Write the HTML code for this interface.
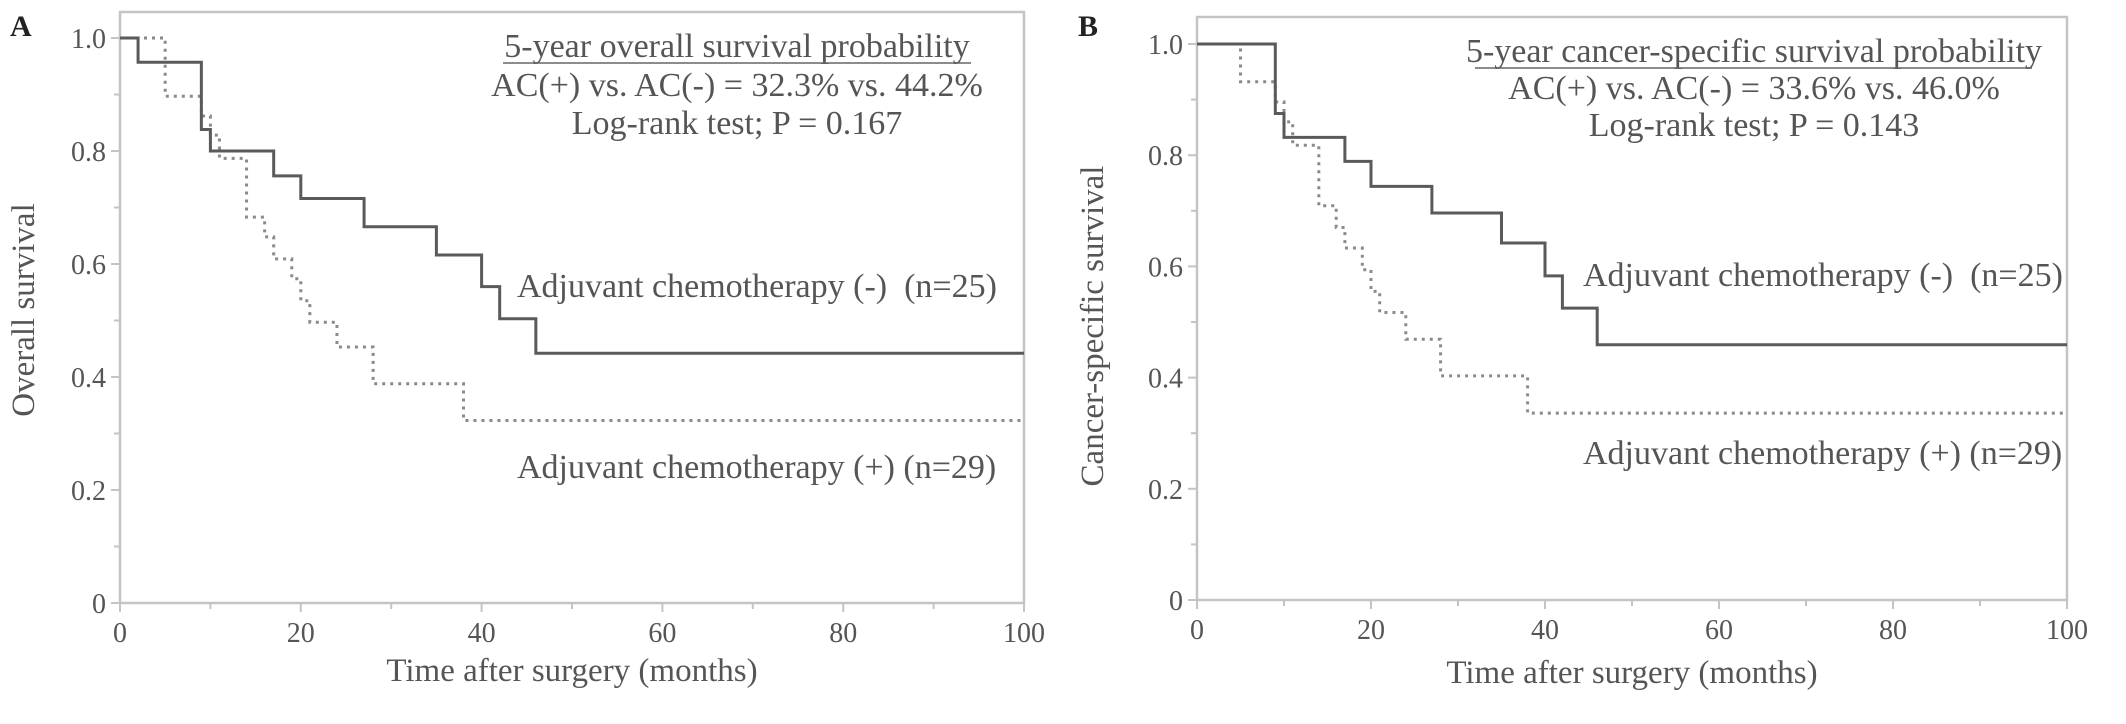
<!DOCTYPE html>
<html><head><meta charset="utf-8"><style>
html,body{margin:0;padding:0;background:#fff;}
svg{display:block;font-family:"Liberation Serif","DejaVu Serif",serif;}
text{white-space:pre;}
</style></head><body>
<svg id="chart" width="2126" height="724" viewBox="0 0 2126 724" xmlns="http://www.w3.org/2000/svg"></svg>
<script>
// Panel A data (overall survival)
const aSolidT = [0, 2, 9, 10, 17, 20, 27, 35, 40, 42, 46, 100];
const aSolidS = [1.0, 0.957, 0.838, 0.80, 0.756, 0.716, 0.666, 0.616, 0.56, 0.503, 0.442, 0.442];
const aDotT = [0, 5, 9, 10, 11, 14, 16, 17, 19, 20, 21, 24, 28, 38, 100];
const aDotS = [1.0, 0.897, 0.862, 0.828, 0.787, 0.683, 0.648, 0.609, 0.574, 0.535, 0.497, 0.453, 0.388, 0.323, 0.323];
// Panel B data (cancer-specific survival)
const bSolidT = [0, 9, 10, 17, 20, 27, 35, 40, 42, 46, 100];
const bSolidS = [1.0, 0.875, 0.832, 0.789, 0.744, 0.696, 0.642, 0.583, 0.525, 0.459, 0.459];
const bDotT = [0, 5, 9, 10, 11, 14, 16, 17, 19, 20, 21, 24, 28, 38, 100];
const bDotS = [1.0, 0.932, 0.896, 0.86, 0.818, 0.709, 0.67, 0.633, 0.594, 0.555, 0.517, 0.469, 0.403, 0.336, 0.336];
const xTicks = [0, 20, 40, 60, 80, 100];
const yTicks = [0, 0.2, 0.4, 0.6, 0.8, 1.0];
const yTickLabels = ["0", "0.2", "0.4", "0.6", "0.8", "1.0"];

const NS = "http://www.w3.org/2000/svg";
const svg = document.getElementById("chart");
function mk(tag, attrs, parent) {
  const e = document.createElementNS(NS, tag);
  for (const k in attrs) e.setAttribute(k, attrs[k]);
  (parent || svg).appendChild(e);
  return e;
}

function panel(cfg) {
  const g = mk("g", {});
  
  
  const X = t => cfg.x0 + (cfg.x1 - cfg.x0) * t / 100;
  const Y = s => cfg.y0 + (cfg.y1 - cfg.y0) * s;
  const fr = mk("path", {d: `M${cfg.x0} ${cfg.top} H${cfg.x1} V${cfg.y0} H${cfg.x0} Z`, fill: "none", stroke: "#c4c4c4", "stroke-width": 2.5}, g);
  
  
  for (let i = 0; i <= 10; i++) {
    const yy = Y(i / 10);
    const major = i % 2 === 0;
    const tk = mk("line", {x1: cfg.x0 - (major ? 9 : 6), x2: cfg.x0, y1: yy, y2: yy, stroke: "#c4c4c4", "stroke-width": 2}, g);
    
    
  }
  yTicks.forEach((v, i) => {
    const t = mk("text", {x: cfg.x0 - 14, y: Y(v) + 10, "text-anchor": "end", "font-size": 28, fill: "#555"}, g);
    t.textContent = yTickLabels[i];
    
    
  });
  for (let i = 0; i <= 10; i++) {
    const xx = X(i * 10);
    const major = i % 2 === 0;
    const tk = mk("line", {x1: xx, x2: xx, y1: cfg.y0, y2: cfg.y0 + (major ? 9 : 6), stroke: "#c4c4c4", "stroke-width": 2}, g);
    
    
  }
  xTicks.forEach(v => {
    const t = mk("text", {x: X(v), y: cfg.y0 + 39, "text-anchor": "middle", "font-size": 28, fill: "#555"}, g);
    t.textContent = String(v);
    
    
  });
  function step(T, S, dotted, name) {
    let d = `M${X(T[0])} ${Y(S[0])}`;
    for (let i = 1; i < T.length; i++) {
      d += ` H${X(T[i])} V${Y(S[i])}`;
    }
    const p = mk("path", {d: d, fill: "none", stroke: dotted ? "#8a8a8a" : "#5a5a5a", "stroke-width": 3, "stroke-dasharray": dotted ? "3 5" : "none"}, g);
    
    
  }
  step(cfg.dotT, cfg.dotS, true, 'curve-ac-positive');
  step(cfg.solT, cfg.solS, false, 'curve-ac-negative');

  const letter = mk("text", {x: cfg.letterX, y: 36, "font-size": 30, "font-weight": "bold", fill: "#222"}, g);
  letter.textContent = cfg.letter;
  
  

  const yt = mk("text", {x: 0, y: 0, transform: `translate(${cfg.ytX},${cfg.ytY}) rotate(-90)`, "text-anchor": "middle", "font-size": 33, fill: "#555"}, g);
  yt.textContent = cfg.yTitle;
  
  

  const xt = mk("text", {x: (cfg.x0 + cfg.x1) / 2, y: cfg.xtY, "text-anchor": "middle", "font-size": 33, fill: "#555"}, g);
  xt.textContent = "Time after surgery (months)";
  
  

  cfg.ann.forEach((a, i) => {
    const t = mk("text", {x: cfg.annX, y: a.y, "text-anchor": "middle", "font-size": 34, fill: "#555"}, g);
    t.textContent = a.text;
    
    
  });
  const ul = mk("line", {x1: cfg.ulX1, x2: cfg.ulX2, y1: cfg.ann[0].y + 6, y2: cfg.ann[0].y + 6, stroke: "#666", "stroke-width": 1.5}, g);
  
  

  const l1 = mk("text", {x: cfg.labX, y: cfg.lab1Y, "font-size": 34, fill: "#555"}, g);
  l1.textContent = "Adjuvant chemotherapy (-)  (n=25)";
  
  
  const l2 = mk("text", {x: cfg.labX, y: cfg.lab2Y, "font-size": 34, fill: "#555"}, g);
  l2.textContent = "Adjuvant chemotherapy (+) (n=29)";
  
  
}

panel({id: "panel-a-overall-survival", x0: 120, x1: 1024, y0: 603, y1: 38, top: 12,
  solT: aSolidT, solS: aSolidS, dotT: aDotT, dotS: aDotS,
  letter: "A", letterX: 10, yTitle: "Overall survival", ytX: 34, ytY: 310, xtY: 681,
  annX: 737, ann: [{y: 57, text: "5-year overall survival probability"}, {y: 96, text: "AC(+) vs. AC(-) = 32.3% vs. 44.2%"}, {y: 134, text: "Log-rank test; P = 0.167"}],
  ulX1: 503, ulX2: 971,
  labX: 517, lab1Y: 297, lab2Y: 478});

panel({id: "panel-b-cancer-specific-survival", x0: 1197, x1: 2067, y0: 600, y1: 44, top: 17,
  solT: bSolidT, solS: bSolidS, dotT: bDotT, dotS: bDotS,
  letter: "B", letterX: 1078, yTitle: "Cancer-specific survival", ytX: 1103, ytY: 326, xtY: 683,
  annX: 1754, ann: [{y: 62, text: "5-year cancer-specific survival probability"}, {y: 99, text: "AC(+) vs. AC(-) = 33.6% vs. 46.0%"}, {y: 136, text: "Log-rank test; P = 0.143"}],
  ulX1: 1475, ulX2: 2032,
  labX: 1583, lab1Y: 286, lab2Y: 464});
</script>
</body></html>
